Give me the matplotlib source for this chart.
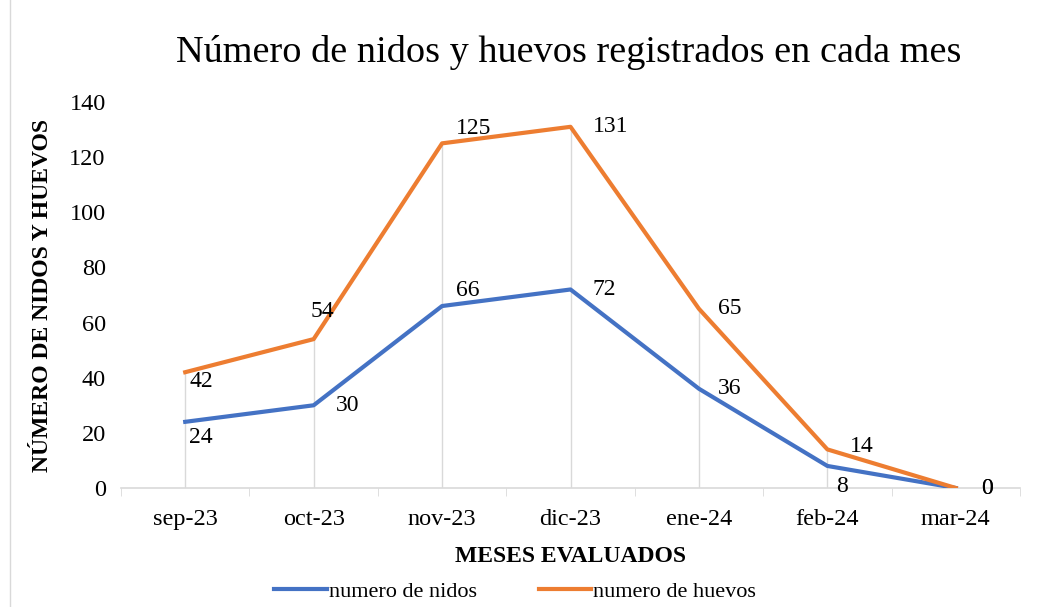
import numpy as np
import matplotlib
matplotlib.use('Agg')
import matplotlib.pyplot as plt
from matplotlib.patches import Rectangle

meses = ['sep-23', 'oct-23', 'nov-23', 'dic-23', 'ene-24', 'feb-24', 'mar-24']
nidos = [24, 30, 66, 72, 36, 8, 0]
huevos = [42, 54, 125, 131, 65, 14, 0]

# desplazamiento de etiquetas (puntos)
off_nidos = [(3, -11), (16, 0), (10, 11), (16, 0), (14, 0), (6, -15), (18, 0)]
off_huevos = [(3, -7), (-2, 20), (10, 11), (16, 0), (14, 0), (16, 2), (18, 0)]

plt.rcParams['font.family'] = ['Liberation Serif', 'DejaVu Serif']

fig = plt.figure(figsize=(10.41, 6.07), dpi=100)
ax = fig.add_axes([121/1041, 1-488/607, (1020-121)/1041, (488-102)/607])

x = np.arange(len(meses))
azul = '#4472c4'
naranja = '#ed7d31'

# lineas verticales hasta el punto mas alto
for i in range(len(meses)):
    top = max(nidos[i], huevos[i])
    ax.plot([x[i], x[i]], [0, top], color='#d9d9d9', lw=1, zorder=1)

ax.plot(x, nidos, color=azul, lw=3, label='numero de nidos', zorder=3)
ax.plot(x, huevos, color=naranja, lw=3, label='numero de huevos', zorder=3)

for i in range(len(meses)):
    ax.annotate(str(nidos[i]), (x[i], nidos[i]), xytext=off_nidos[i], textcoords='offset points',
                ha='left', va='center', fontsize=17)
    ax.annotate(str(huevos[i]), (x[i], huevos[i]), xytext=off_huevos[i], textcoords='offset points',
                ha='left', va='center', fontsize=17)

ax.set_xlim(-0.5, len(meses) - 0.5)
ax.set_ylim(0, 140)
ax.set_yticks(np.arange(0, 141, 20))
ax.set_xticks(x)
ax.set_xticklabels(meses)
ax.set_xticks(np.arange(-0.5, len(meses)), minor=True)
ax.tick_params(axis='x', which='major', length=0, labelsize=17.5, pad=15)
ax.tick_params(axis='x', which='minor', length=6, color='#d9d9d9')
ax.tick_params(axis='y', length=0, labelsize=17.5, pad=11)

for s in ['top', 'right', 'left']:
    ax.spines[s].set_visible(False)
ax.spines['bottom'].set_color('#d9d9d9')
ax.spines['bottom'].set_linewidth(1.2)

ax.set_xlabel('MESES EVALUADOS', fontsize=17, fontweight='bold', labelpad=12)
ax.set_ylabel('NÚMERO DE NIDOS Y HUEVOS', fontsize=17, fontweight='bold', labelpad=12)

fig.text(0.546, 1-53/607, 'Número de nidos y huevos registrados en cada mes',
         ha='center', va='center', fontsize=27.5)

fig.legend(loc='center', bbox_to_anchor=(0.495, 1-592/607), ncol=2, frameon=False,
           fontsize=16, handlelength=2.35, columnspacing=2.8, handletextpad=0.1)

fig.patches.append(Rectangle((10/1041, -0.01), 1.02, 1.02, transform=fig.transFigure,
                             fill=False, edgecolor='#d9d9d9', lw=1))

plt.savefig('out.png', dpi=100)
